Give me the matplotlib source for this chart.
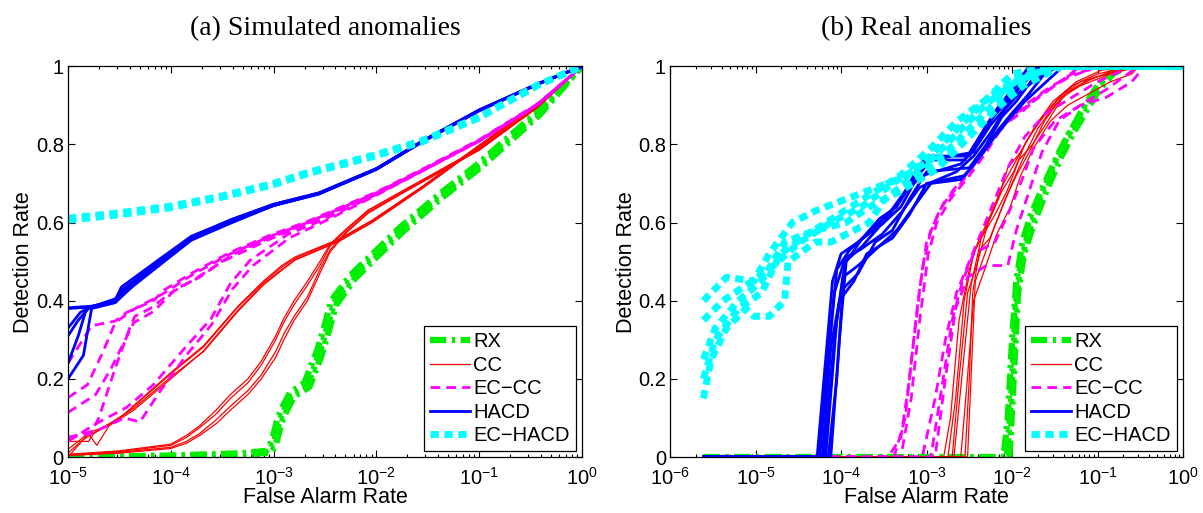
import numpy as np
import matplotlib.pyplot as plt
from matplotlib.ticker import FixedLocator, FixedFormatter, LogLocator, NullFormatter

plt.rcParams['font.family'] = ['Liberation Sans', 'DejaVu Sans']
plt.rcParams['mathtext.fontset'] = 'custom'
plt.rcParams['mathtext.rm'] = 'Liberation Sans'

# DATA: each run is a list of (log10 false alarm rate, detection rate)

# (a) simulated anomalies
sim_rx = [
    [(-5, 0.0), (-4.0, 0.003), (-3.3, 0.008), (-3.05, 0.014), (-3.0, 0.035), (-2.94, 0.094), (-2.88, 0.13), (-2.82, 0.16), (-2.67, 0.185), (-2.56, 0.261), (-2.48, 0.33), (-2.41, 0.394), (-2.23, 0.461), (-2.0, 0.52), (-1.74, 0.586), (-1.37, 0.67), (-1.0, 0.745), (-0.43, 0.879), (0, 1)],
    [(-5, 0.0), (-4.0, 0.004), (-3.3, 0.01), (-3.07, 0.016), (-3.02, 0.04), (-2.96, 0.10), (-2.90, 0.135), (-2.84, 0.165), (-2.70, 0.19), (-2.58, 0.27), (-2.50, 0.34), (-2.44, 0.40), (-2.25, 0.466), (-2.02, 0.524), (-1.76, 0.59), (-1.39, 0.672), (-1.02, 0.748), (-0.45, 0.88), (0, 1)],
    [(-5, 0.0), (-4.0, 0.002), (-3.3, 0.006), (-3.02, 0.012), (-2.98, 0.03), (-2.92, 0.09), (-2.86, 0.125), (-2.80, 0.155), (-2.65, 0.18), (-2.54, 0.255), (-2.46, 0.325), (-2.39, 0.39), (-2.21, 0.456), (-1.98, 0.516), (-1.72, 0.582), (-1.35, 0.666), (-0.98, 0.742), (-0.41, 0.876), (0, 1)],
]
sim_cc = [
    [(-5, 0.04), (-4.8, 0.04), (-4.75, 0.06), (-4.62, 0.08), (-4.36, 0.125), (-4.0, 0.205), (-3.68, 0.27), (-3.35, 0.372), (-3.1, 0.44), (-2.92, 0.478), (-2.79, 0.504), (-2.37, 0.551), (-2.04, 0.60), (-1.55, 0.688), (-1.0, 0.793), (-0.43, 0.903), (0, 1)],
    [(-5, 0.01), (-4.85, 0.045), (-4.7, 0.07), (-4.5, 0.10), (-4.36, 0.13), (-4.0, 0.213), (-3.68, 0.282), (-3.35, 0.383), (-3.1, 0.446), (-2.92, 0.486), (-2.79, 0.509), (-2.37, 0.555), (-2.04, 0.605), (-1.55, 0.692), (-1.0, 0.797), (-0.43, 0.905), (0, 1)],
    [(-5, 0.0), (-4.8, 0.06), (-4.72, 0.03), (-4.6, 0.08), (-4.36, 0.12), (-4.0, 0.20), (-3.68, 0.272), (-3.35, 0.375), (-3.1, 0.442), (-2.92, 0.48), (-2.79, 0.505), (-2.37, 0.552), (-2.04, 0.602), (-1.55, 0.689), (-1.0, 0.794), (-0.43, 0.903), (0, 1)],
    [(-5, 0.02), (-4.78, 0.065), (-4.65, 0.075), (-4.45, 0.11), (-4.36, 0.132), (-4.0, 0.216), (-3.68, 0.285), (-3.35, 0.385), (-3.1, 0.45), (-2.92, 0.49), (-2.79, 0.512), (-2.37, 0.557), (-2.04, 0.606), (-1.55, 0.693), (-1.0, 0.798), (-0.43, 0.906), (0, 1)],
    [(-5, 0.005), (-4.5, 0.012), (-4.0, 0.025), (-3.85, 0.04), (-3.72, 0.06), (-3.56, 0.095), (-3.42, 0.13), (-3.25, 0.17), (-3.12, 0.21), (-2.98, 0.27), (-2.90, 0.315), (-2.80, 0.36), (-2.67, 0.41), (-2.55, 0.48), (-2.45, 0.53), (-2.30, 0.575), (-2.08, 0.626), (-1.74, 0.677), (-1.0, 0.786), (-0.43, 0.895), (0, 1)],
    [(-5, 0.006), (-4.5, 0.014), (-4.0, 0.03), (-3.85, 0.05), (-3.72, 0.075), (-3.56, 0.11), (-3.42, 0.15), (-3.25, 0.19), (-3.12, 0.235), (-2.98, 0.30), (-2.90, 0.345), (-2.80, 0.39), (-2.67, 0.44), (-2.55, 0.49), (-2.45, 0.54), (-2.30, 0.58), (-2.08, 0.63), (-1.74, 0.68), (-1.0, 0.788), (-0.43, 0.897), (0, 1)],
    [(-5, 0.004), (-4.5, 0.01), (-4.0, 0.022), (-3.85, 0.035), (-3.72, 0.055), (-3.56, 0.085), (-3.42, 0.12), (-3.25, 0.16), (-3.12, 0.20), (-2.98, 0.255), (-2.90, 0.30), (-2.80, 0.35), (-2.67, 0.40), (-2.55, 0.47), (-2.45, 0.525), (-2.30, 0.572), (-2.08, 0.624), (-1.74, 0.676), (-1.0, 0.785), (-0.43, 0.895), (0, 1)],
    [(-5, 0.007), (-4.5, 0.016), (-4.0, 0.033), (-3.85, 0.055), (-3.72, 0.08), (-3.56, 0.12), (-3.42, 0.16), (-3.25, 0.20), (-3.12, 0.245), (-2.98, 0.31), (-2.90, 0.355), (-2.80, 0.40), (-2.67, 0.45), (-2.55, 0.50), (-2.45, 0.545), (-2.30, 0.582), (-2.08, 0.632), (-1.74, 0.682), (-1.0, 0.79), (-0.43, 0.898), (0, 1)],
]
sim_eccc = [
    [(-5, 0.24), (-4.77, 0.336), (-4.54, 0.348), (-4.43, 0.37), (-4.17, 0.40), (-4.06, 0.428), (-3.80, 0.47), (-3.42, 0.524), (-3.05, 0.566), (-2.67, 0.603), (-2.0, 0.678), (-1.55, 0.737), (-1.0, 0.812), (-0.43, 0.904), (0, 1)],
    [(-5, 0.152), (-4.81, 0.185), (-4.66, 0.269), (-4.54, 0.344), (-4.36, 0.378), (-4.06, 0.42), (-3.80, 0.465), (-3.42, 0.52), (-3.05, 0.563), (-2.67, 0.60), (-2.0, 0.676), (-1.55, 0.735), (-1.0, 0.81), (-0.43, 0.903), (0, 1)],
    [(-5, 0.114), (-4.73, 0.16), (-4.58, 0.227), (-4.36, 0.344), (-4.17, 0.372), (-3.95, 0.43), (-3.72, 0.46), (-3.42, 0.515), (-3.05, 0.56), (-2.67, 0.598), (-2.0, 0.674), (-1.55, 0.734), (-1.0, 0.81), (-0.43, 0.903), (0, 1)],
    [(-5, 0.05), (-4.78, 0.06), (-4.70, 0.10), (-4.55, 0.22), (-4.40, 0.33), (-4.35, 0.36), (-4.20, 0.38), (-4.0, 0.42), (-3.8, 0.45), (-3.5, 0.50), (-3.05, 0.556), (-2.67, 0.596), (-2.0, 0.673), (-1.55, 0.733), (-1.0, 0.809), (-0.43, 0.902), (0, 1)],
    [(-5, 0.04), (-4.73, 0.085), (-4.43, 0.127), (-4.17, 0.185), (-3.87, 0.277), (-3.61, 0.353), (-3.42, 0.444), (-3.23, 0.503), (-2.86, 0.57), (-2.49, 0.61), (-2.0, 0.672), (-1.55, 0.733), (-1.0, 0.809), (-0.43, 0.902), (0, 1)],
    [(-5, 0.05), (-4.7, 0.07), (-4.45, 0.10), (-4.3, 0.09), (-4.1, 0.17), (-3.85, 0.26), (-3.6, 0.34), (-3.40, 0.43), (-3.20, 0.49), (-2.85, 0.56), (-2.49, 0.605), (-2.0, 0.67), (-1.55, 0.732), (-1.0, 0.808), (-0.43, 0.902), (0, 1)],
]
sim_hacd = [
    [(-5, 0.382), (-4.77, 0.386), (-4.54, 0.40), (-4.47, 0.428), (-4.09, 0.503), (-3.80, 0.561), (-3.42, 0.603), (-3.0, 0.645), (-2.56, 0.674), (-2.0, 0.737), (-1.55, 0.808), (-1.0, 0.887), (-0.43, 0.954), (0, 1)],
    [(-5, 0.20), (-4.85, 0.26), (-4.77, 0.38), (-4.54, 0.395), (-4.45, 0.42), (-4.09, 0.495), (-3.80, 0.555), (-3.42, 0.60), (-3.0, 0.643), (-2.56, 0.673), (-2.0, 0.736), (-1.55, 0.807), (-1.0, 0.886), (-0.43, 0.954), (0, 1)],
    [(-5, 0.31), (-4.9, 0.35), (-4.8, 0.38), (-4.54, 0.402), (-4.48, 0.435), (-4.09, 0.51), (-3.80, 0.565), (-3.42, 0.606), (-3.0, 0.646), (-2.56, 0.675), (-2.0, 0.738), (-1.55, 0.809), (-1.0, 0.888), (-0.43, 0.955), (0, 1)],
    [(-5, 0.24), (-4.9, 0.31), (-4.82, 0.38), (-4.54, 0.398), (-4.42, 0.43), (-4.15, 0.49), (-3.85, 0.55), (-3.42, 0.598), (-3.0, 0.644), (-2.56, 0.674), (-2.0, 0.737), (-1.55, 0.808), (-1.0, 0.887), (-0.43, 0.954), (0, 1)],
    [(-5, 0.38), (-4.77, 0.384), (-4.54, 0.405), (-4.40, 0.44), (-4.05, 0.515), (-3.75, 0.568), (-3.42, 0.607), (-3.0, 0.647), (-2.56, 0.676), (-2.0, 0.738), (-1.55, 0.809), (-1.0, 0.888), (-0.43, 0.955), (0, 1)],
    [(-5, 0.33), (-4.88, 0.37), (-4.78, 0.385), (-4.54, 0.396), (-4.44, 0.42), (-4.12, 0.50), (-3.82, 0.558), (-3.42, 0.601), (-3.0, 0.644), (-2.56, 0.673), (-2.0, 0.736), (-1.55, 0.807), (-1.0, 0.886), (-0.43, 0.954), (0, 1)],
]
sim_echacd = [
    [(-5, 0.611), (-4.5, 0.625), (-4.0, 0.642), (-3.5, 0.668), (-3.0, 0.70), (-2.67, 0.728), (-2.0, 0.774), (-1.55, 0.81), (-1.0, 0.87), (-0.43, 0.952), (0, 1)],
    [(-5, 0.606), (-4.5, 0.62), (-4.0, 0.638), (-3.5, 0.665), (-3.0, 0.697), (-2.67, 0.725), (-2.0, 0.771), (-1.55, 0.807), (-1.0, 0.868), (-0.43, 0.951), (0, 1)],
]

# (b) real anomalies
real_rx = [
    [(-5.61, 0), (-2.10, 0), (-2.05, 0.10), (-2.00, 0.30), (-1.95, 0.45), (-1.88, 0.55), (-1.78, 0.62), (-1.62, 0.70), (-1.45, 0.78), (-1.30, 0.84), (-1.15, 0.90), (-1.00, 0.95), (-0.85, 0.98), (-0.70, 1.0), (0, 1)],
    [(-5.61, 0), (-2.06, 0), (-2.01, 0.15), (-1.96, 0.38), (-1.90, 0.50), (-1.80, 0.58), (-1.68, 0.66), (-1.52, 0.74), (-1.38, 0.81), (-1.22, 0.87), (-1.08, 0.92), (-0.92, 0.97), (-0.75, 1.0), (0, 1)],
    [(-5.61, 0), (-2.03, 0), (-1.98, 0.20), (-1.93, 0.42), (-1.86, 0.52), (-1.74, 0.60), (-1.58, 0.69), (-1.42, 0.77), (-1.28, 0.83), (-1.12, 0.89), (-0.98, 0.94), (-0.82, 0.98), (-0.65, 1.0), (0, 1)],
]
real_cc = [
    [(-5.61, 0), (-2.80, 0), (-2.72, 0.10), (-2.62, 0.35), (-2.50, 0.48), (-2.40, 0.55), (-2.25, 0.62), (-2.10, 0.70), (-1.95, 0.76), (-1.80, 0.82), (-1.60, 0.88), (-1.40, 0.93), (-1.20, 0.96), (-0.90, 0.98), (-0.55, 1.0), (0, 1)],
    [(-5.61, 0), (-2.75, 0), (-2.66, 0.15), (-2.56, 0.40), (-2.45, 0.52), (-2.32, 0.58), (-2.18, 0.65), (-2.05, 0.74), (-1.90, 0.78), (-1.72, 0.85), (-1.52, 0.91), (-1.30, 0.95), (-1.00, 0.98), (-0.60, 1.0), (0, 1)],
    [(-5.61, 0), (-2.70, 0), (-2.62, 0.20), (-2.52, 0.42), (-2.40, 0.50), (-2.28, 0.60), (-2.12, 0.68), (-1.98, 0.73), (-1.85, 0.80), (-1.65, 0.87), (-1.45, 0.92), (-1.25, 0.96), (-0.95, 0.99), (-0.50, 1.0), (0, 1)],
    [(-5.61, 0), (-2.55, 0), (-2.50, 0.20), (-2.46, 0.42), (-2.38, 0.53), (-2.26, 0.56), (-2.15, 0.62), (-2.00, 0.70), (-1.88, 0.76), (-1.70, 0.84), (-1.50, 0.90), (-1.30, 0.94), (-1.05, 0.97), (-0.55, 1.0), (0, 1)],
    [(-5.61, 0), (-2.52, 0), (-2.47, 0.25), (-2.43, 0.45), (-2.35, 0.50), (-2.22, 0.58), (-2.08, 0.66), (-1.95, 0.72), (-1.80, 0.78), (-1.62, 0.86), (-1.42, 0.92), (-1.20, 0.95), (-0.85, 0.98), (-0.50, 1.0), (0, 1)],
    [(-5.61, 0), (-2.68, 0), (-2.58, 0.22), (-2.48, 0.44), (-2.36, 0.56), (-2.20, 0.62), (-2.06, 0.68), (-1.92, 0.76), (-1.76, 0.80), (-1.58, 0.86), (-1.38, 0.93), (-1.15, 0.96), (-0.80, 0.99), (-0.52, 1.0), (0, 1)],
    [(-5.61, 0), (-2.60, 0), (-2.53, 0.18), (-2.45, 0.40), (-2.32, 0.48), (-2.18, 0.57), (-2.02, 0.64), (-1.90, 0.72), (-1.75, 0.79), (-1.55, 0.86), (-1.35, 0.90), (-1.10, 0.93), (-0.85, 0.96), (-0.60, 0.98), (-0.52, 1.0), (0, 1)],
]
real_eccc = [
    [(-5.61, 0), (-3.45, 0), (-3.30, 0.05), (-3.20, 0.20), (-3.10, 0.40), (-3.00, 0.55), (-2.85, 0.63), (-2.70, 0.68), (-2.55, 0.72), (-2.35, 0.78), (-2.15, 0.84), (-1.90, 0.88), (-1.65, 0.93), (-1.35, 0.97), (-1.00, 1.0), (0, 1)],
    [(-5.61, 0), (-3.38, 0), (-3.25, 0.10), (-3.15, 0.30), (-3.05, 0.48), (-2.95, 0.58), (-2.80, 0.65), (-2.60, 0.70), (-2.40, 0.76), (-2.20, 0.82), (-2.00, 0.87), (-1.75, 0.91), (-1.50, 0.95), (-1.20, 1.0), (0, 1)],
    [(-5.61, 0), (-3.30, 0), (-3.18, 0.15), (-3.08, 0.35), (-2.98, 0.52), (-2.88, 0.60), (-2.72, 0.66), (-2.50, 0.72), (-2.30, 0.78), (-2.10, 0.85), (-1.85, 0.90), (-1.60, 0.94), (-1.30, 0.98), (-0.90, 1.0), (0, 1)],
    [(-5.61, 0), (-3.05, 0), (-2.90, 0.15), (-2.78, 0.30), (-2.65, 0.42), (-2.50, 0.50), (-2.35, 0.58), (-2.20, 0.66), (-2.05, 0.74), (-1.85, 0.82), (-1.60, 0.88), (-1.30, 0.92), (-1.00, 0.96), (-0.60, 1.0), (0, 1)],
    [(-5.61, 0), (-2.95, 0), (-2.82, 0.18), (-2.70, 0.35), (-2.58, 0.45), (-2.45, 0.52), (-2.20, 0.55), (-2.05, 0.62), (-1.90, 0.70), (-1.75, 0.79), (-1.50, 0.86), (-1.20, 0.90), (-0.90, 0.94), (-0.52, 1.0), (0, 1)],
    [(-5.61, 0), (-2.90, 0), (-2.78, 0.20), (-2.66, 0.38), (-2.52, 0.46), (-2.30, 0.49), (-2.05, 0.49), (-1.95, 0.58), (-1.80, 0.68), (-1.65, 0.78), (-1.45, 0.86), (-1.20, 0.90), (-0.90, 0.92), (-0.60, 0.96), (-0.45, 1.0), (0, 1)],
]
real_hacd = [
    [(-5.61, 0), (-4.28, 0), (-4.20, 0.2), (-4.10, 0.45), (-4.00, 0.52), (-3.80, 0.55), (-3.50, 0.60), (-3.30, 0.66), (-3.10, 0.74), (-3.00, 0.77), (-2.50, 0.77), (-2.35, 0.82), (-2.20, 0.88), (-2.00, 0.92), (-1.85, 0.97), (-1.75, 1.0), (0, 1)],
    [(-5.61, 0), (-4.25, 0), (-4.15, 0.25), (-4.05, 0.48), (-3.90, 0.53), (-3.70, 0.57), (-3.45, 0.62), (-3.25, 0.68), (-3.05, 0.72), (-2.60, 0.75), (-2.40, 0.80), (-2.25, 0.85), (-2.05, 0.90), (-1.90, 0.95), (-1.65, 1.0), (0, 1)],
    [(-5.61, 0), (-4.22, 0), (-4.12, 0.28), (-4.02, 0.40), (-3.85, 0.45), (-3.70, 0.52), (-3.40, 0.56), (-3.20, 0.62), (-3.00, 0.70), (-2.55, 0.72), (-2.35, 0.78), (-2.15, 0.84), (-2.00, 0.88), (-1.80, 0.93), (-1.55, 1.0), (0, 1)],
    [(-5.61, 0), (-4.20, 0), (-4.08, 0.30), (-3.98, 0.46), (-3.80, 0.49), (-3.60, 0.53), (-3.35, 0.58), (-3.15, 0.64), (-2.95, 0.70), (-2.60, 0.71), (-2.40, 0.76), (-2.20, 0.82), (-2.05, 0.86), (-1.85, 0.91), (-1.60, 0.96), (-1.40, 1.0), (0, 1)],
    [(-5.61, 0), (-4.18, 0), (-4.05, 0.35), (-3.95, 0.50), (-3.75, 0.54), (-3.55, 0.59), (-3.30, 0.64), (-3.10, 0.72), (-2.95, 0.76), (-2.45, 0.78), (-2.30, 0.85), (-2.10, 0.90), (-1.95, 0.95), (-1.70, 1.0), (0, 1)],
    [(-5.61, 0), (-4.15, 0), (-4.05, 0.20), (-3.98, 0.43), (-3.80, 0.47), (-3.60, 0.55), (-3.40, 0.58), (-3.20, 0.66), (-3.00, 0.73), (-2.50, 0.74), (-2.30, 0.80), (-2.12, 0.87), (-1.95, 0.91), (-1.75, 0.97), (-1.50, 1.0), (0, 1)],
    [(-5.61, 0), (-4.12, 0), (-4.02, 0.30), (-3.94, 0.50), (-3.75, 0.56), (-3.55, 0.61), (-3.35, 0.64), (-3.18, 0.70), (-3.00, 0.76), (-2.55, 0.76), (-2.38, 0.82), (-2.18, 0.89), (-2.00, 0.94), (-1.80, 1.0), (0, 1)],
    [(-5.61, 0), (-4.27, 0), (-4.17, 0.22), (-4.08, 0.42), (-3.95, 0.51), (-3.78, 0.53), (-3.52, 0.57), (-3.28, 0.63), (-3.08, 0.69), (-2.65, 0.73), (-2.45, 0.77), (-2.25, 0.83), (-2.08, 0.89), (-1.88, 0.94), (-1.62, 0.98), (-1.45, 1.0), (0, 1)],
]
real_echacd = [
    [(-5.61, 0.40), (-5.34, 0.46), (-5.02, 0.45), (-4.84, 0.52), (-4.57, 0.60), (-4.30, 0.63), (-3.94, 0.66), (-3.58, 0.69), (-3.22, 0.72), (-2.91, 0.78), (-2.55, 0.86), (-2.23, 0.93), (-2.00, 0.98), (-1.55, 1.0), (0, 1)],
    [(-5.61, 0.35), (-5.38, 0.40), (-5.11, 0.44), (-4.84, 0.48), (-4.48, 0.55), (-4.12, 0.60), (-3.76, 0.64), (-3.40, 0.70), (-2.95, 0.76), (-2.59, 0.84), (-2.32, 0.90), (-1.96, 0.96), (-1.51, 1.0), (0, 1)],
    [(-5.61, 0.25), (-5.47, 0.33), (-5.20, 0.40), (-4.93, 0.45), (-4.66, 0.55), (-4.30, 0.58), (-3.94, 0.60), (-3.67, 0.64), (-3.31, 0.68), (-2.86, 0.74), (-2.50, 0.82), (-2.14, 0.90), (-1.87, 0.95), (-1.42, 1.0), (0, 1)],
    [(-5.61, 0.15), (-5.52, 0.25), (-5.34, 0.33), (-5.11, 0.38), (-5.02, 0.36), (-4.84, 0.36), (-4.66, 0.40), (-4.62, 0.50), (-4.30, 0.55), (-4.12, 0.55), (-3.85, 0.58), (-3.67, 0.60), (-3.49, 0.66), (-3.13, 0.72), (-2.77, 0.78), (-2.41, 0.86), (-2.09, 0.93), (-1.78, 0.98), (-1.42, 1.0), (0, 1)],
    [(-5.61, 0.20), (-5.47, 0.30), (-5.20, 0.38), (-4.93, 0.42), (-4.71, 0.52), (-4.39, 0.57), (-4.03, 0.62), (-3.67, 0.67), (-3.31, 0.72), (-2.95, 0.79), (-2.64, 0.86), (-2.27, 0.92), (-1.91, 0.97), (-1.60, 1.0), (0, 1)],
]

labels = ['RX', 'CC', 'EC\u2212CC', 'HACD', 'EC\u2212HACD']
styles = [
    dict(color='#00ee00', lw=4.5, ls=(0, (2.6, 0.9, 0.5, 0.9))),
    dict(color='red', lw=0.9, ls='-'),
    dict(color='magenta', lw=2.0, ls=(0, (3.5, 2.2))),
    dict(color='blue', lw=2.0, ls='-'),
    dict(color='cyan', lw=5.0, ls=(0, (1.2, 0.8))),
]

fig = plt.figure(figsize=(12.03, 5.13), dpi=100)
ax1 = fig.add_axes([0.0565, 0.109, 0.4273, 0.762])
ax2 = fig.add_axes([0.557, 0.109, 0.4264, 0.762])


def draw(ax, groups, xmin, title):
    for runs, lab, st in zip(groups, labels, styles):
        for i, run in enumerate(runs):
            lx = np.array([p[0] for p in run])
            dr = np.array([p[1] for p in run])
            ax.plot(10.0 ** lx, dr, label=lab if i == 0 else None, **st)
    ax.set_xscale('log')
    ax.set_xlim(xmin, 1)
    ax.set_ylim(0, 1)
    ax.xaxis.set_major_locator(LogLocator(base=10, numticks=10))
    ax.xaxis.set_minor_locator(LogLocator(base=10, subs=np.arange(2, 10), numticks=20))
    ax.xaxis.set_minor_formatter(NullFormatter())
    ax.yaxis.set_major_locator(FixedLocator([0, 0.2, 0.4, 0.6, 0.8, 1]))
    ax.yaxis.set_major_formatter(FixedFormatter(['0', '0.2', '0.4', '0.6', '0.8', '1']))
    ax.tick_params(which='both', direction='in', top=True, right=True, labelsize=14.5, width=0.8)
    ax.tick_params(which='major', length=5)
    ax.tick_params(which='minor', length=2.5)
    ax.tick_params(axis='x', which='major', pad=7)
    ax.tick_params(axis='y', which='major', pad=3)
    for s in ax.spines.values():
        s.set_linewidth(0.9)
    ax.set_xlabel('False Alarm Rate', fontsize=15.5, labelpad=-1)
    ax.set_ylabel('Detection Rate', fontsize=15.5, labelpad=1)
    ax.set_title(title, fontsize=20, family='Liberation Serif', pad=22)
    leg = ax.legend(loc='lower right', fontsize=14.5, fancybox=False, framealpha=1,
                    edgecolor='black', handlelength=2.0, handletextpad=0.15,
                    borderaxespad=0.3, labelspacing=0.22, borderpad=0.3)
    leg.get_frame().set_linewidth(0.9)


draw(ax1, [sim_rx, sim_cc, sim_eccc, sim_hacd, sim_echacd], 1e-5, '(a) Simulated anomalies')
draw(ax2, [real_rx, real_cc, real_eccc, real_hacd, real_echacd], 1e-6, '(b) Real anomalies')

fig.savefig('out.png', dpi=100)
